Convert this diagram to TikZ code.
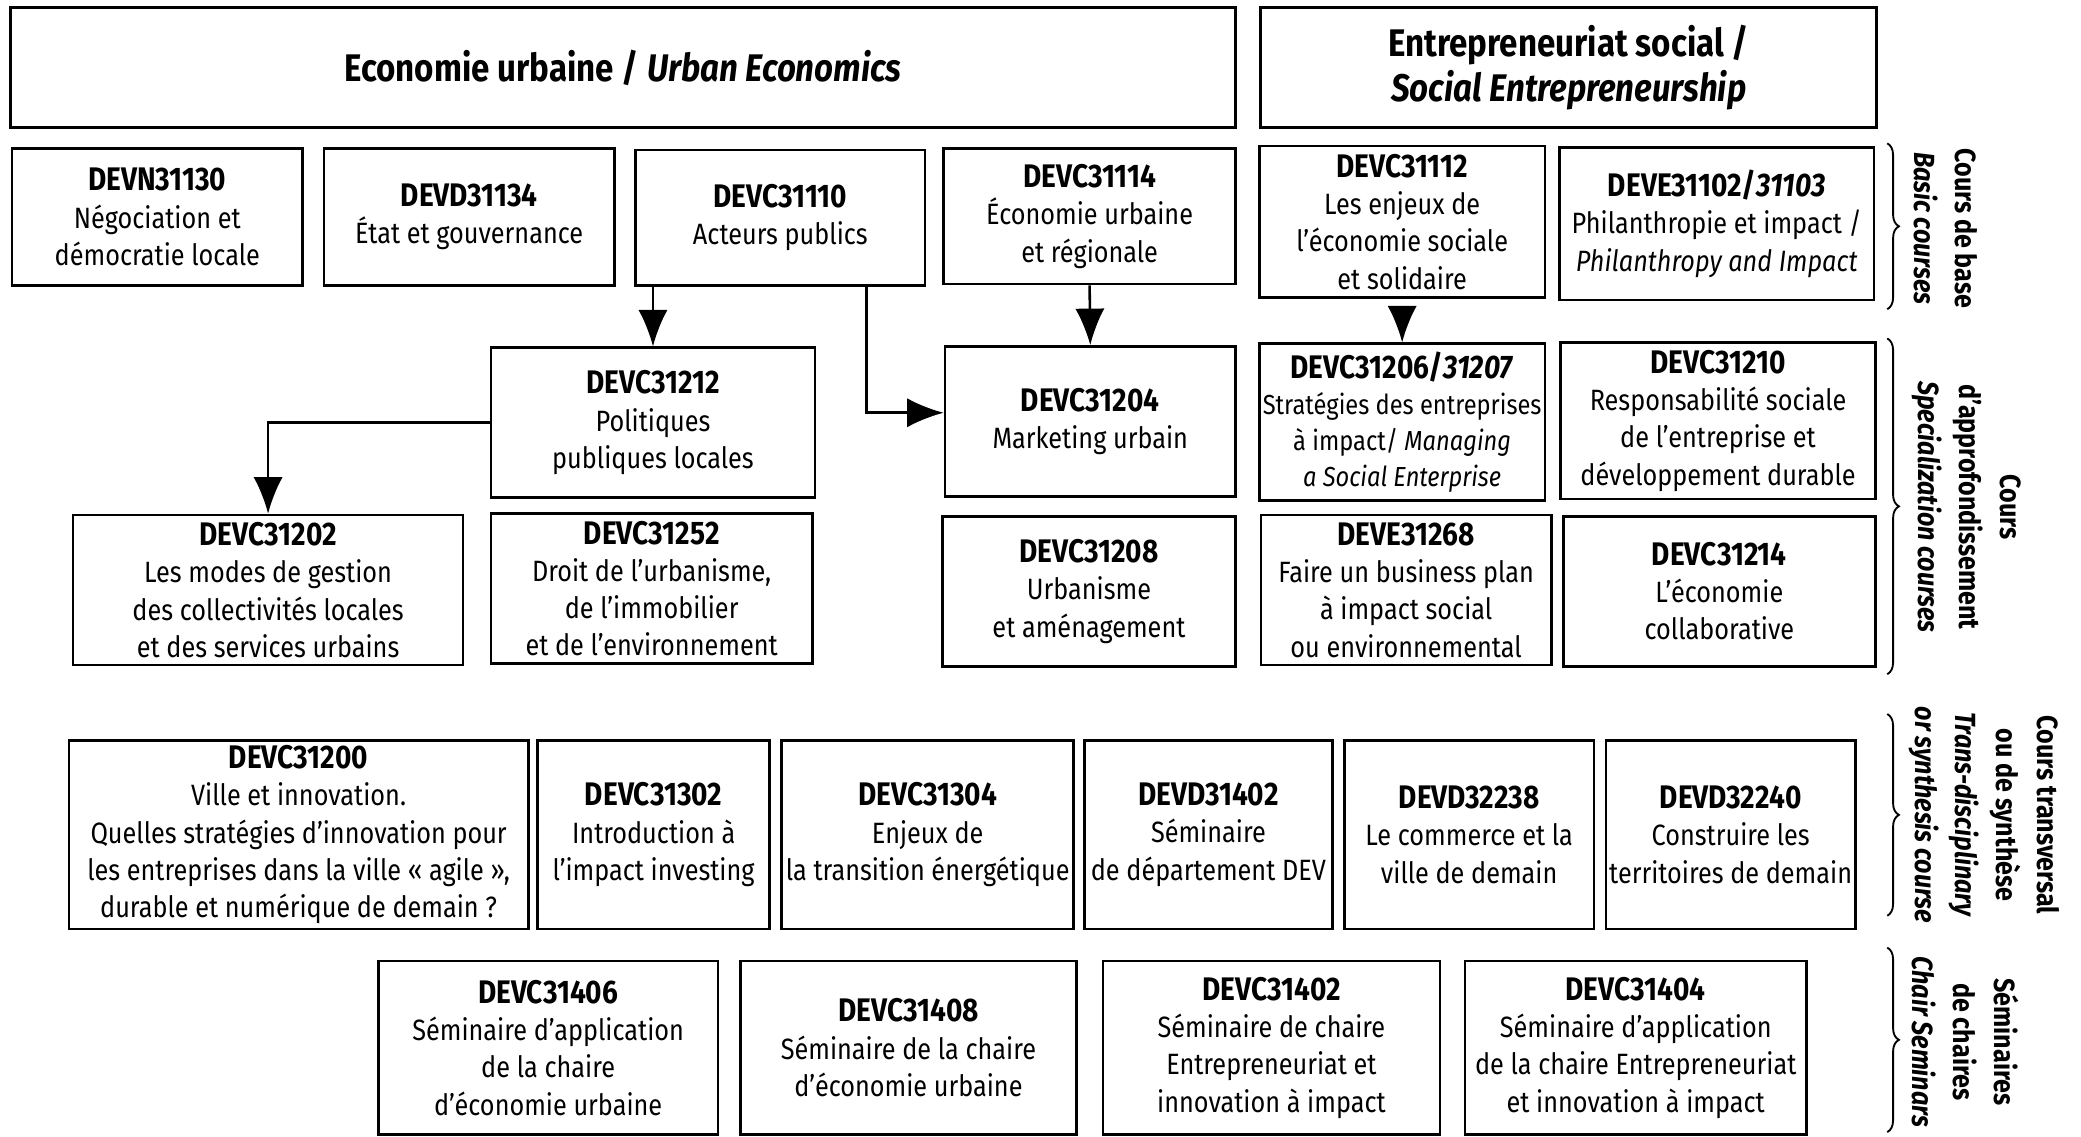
\documentclass[tikz,border=0pt]{standalone}
\usepackage{fontspec}
\setmainfont{Fira Sans}[FakeStretch=0.86]
\usetikzlibrary{arrows.meta, decorations.pathreplacing}

\newcommand\crs[1]{{\fontsize{14}{16}\selectfont\bfseries #1}}

\tikzset{
  box/.style={draw, line width=1.1pt, align=center, fill=white, inner sep=1pt,
              font=\fontsize{12.6}{16}\selectfont},
  sz/.style 2 args={minimum width=#1*0.02cm, minimum height=#2*0.02cm},
  titlebox/.style={box, line width=1.3pt, font=\fontsize{16.5}{19.5}\selectfont\bfseries},
  side/.style={align=center, rotate=-90, font=\fontsize{12.5}{17.5}\selectfont\bfseries},
  brace/.style={decorate, decoration={brace, amplitude=5pt}, line width=0.8pt},
  link/.style={-{Latex[length=5.5mm, width=4.4mm]}, line width=1.1pt}
}

\begin{document}
\begin{tikzpicture}[x=0.02cm, y=-0.02cm]
    \useasboundingbox (0,0) rectangle (1568,856);

    % the two tracks
    \node[titlebox, sz={923}{90}] (urban) at (469.5,51) {Economie urbaine / \textit{Urban Economics}};
    \node[titlebox, sz={464}{90}] (social) at (1182,51) {Entrepreneuriat social /\\\textit{Social Entrepreneurship}};

    % basic courses
    \node[box, sz={219}{103}] (n31130) at (118.5,163.5) {\crs{DEVN31130}\\Négociation et\\démocratie locale};
    \node[box, sz={219}{103}] (d31134) at (353.5,163.5) {\crs{DEVD31134}\\État et gouvernance};
    \node[box, sz={218}{102}] (c31110) at (588,164) {\crs{DEVC31110}\\Acteurs publics};
    \node[box, sz={220}{102}] (c31114) at (821,163) {\crs{DEVC31114}\\Économie urbaine\\et régionale};
    \node[box, sz={215}{114}] (c31112) at (1056.5,167) {\crs{DEVC31112}\\Les enjeux de\\l’économie sociale\\et solidaire};
    \node[box, sz={237}{115}] (e31102) at (1293.5,168.5) {\crs{DEVE31102/\textit{31103}}\\Philanthropie et impact /\\\textit{Philanthropy and Impact}};

    % specialization courses
    \node[box, sz={244}{113}] (c31212) at (492,318.5) {\crs{DEVC31212}\\Politiques\\publiques locales};
    \node[box, sz={219}{113}] (c31204) at (821.5,317.5) {\crs{DEVC31204}\\Marketing urbain};
    \node[box, sz={215}{118}, font=\fontsize{11.8}{15.5}\selectfont] (c31206) at (1056.5,318) {\crs{DEVC31206/\textit{31207}}\\Stratégies des entreprises\\à impact/ \textit{Managing}\\\textit{a Social Enterprise}};
    \node[box, sz={237}{118}] (c31210) at (1294.5,317) {\crs{DEVC31210}\\Responsabilité sociale\\de l’entreprise et\\développement durable};

    \node[box, sz={294}{113}] (c31202) at (202,444.5) {\crs{DEVC31202}\\Les modes de gestion\\des collectivités locales\\et des services urbains};
    \node[box, sz={242}{113}] (c31252) at (491,443.5) {\crs{DEVC31252}\\Droit de l’urbanisme,\\de l’immobilier\\et de l’environnement};
    \node[box, sz={221}{113}] (c31208) at (820.5,445.5) {\crs{DEVC31208}\\Urbanisme\\et aménagement};
    \node[box, sz={219}{113}] (e31268) at (1059.5,444.5) {\crs{DEVE31268}\\Faire un business plan\\à impact social\\ou environnemental};
    \node[box, sz={235}{113}] (c31214) at (1295.5,445.5) {\crs{DEVC31214}\\L’économie\\collaborative};

    % transversal courses
    \node[box, sz={346}{142}] (c31200) at (225,629) {\crs{DEVC31200}\\Ville et innovation.\\Quelles stratégies d’innovation pour\\les entreprises dans la ville «~agile~»,\\durable et numérique de demain ?};
    \node[box, sz={175}{142}] (c31302) at (492.5,629) {\crs{DEVC31302}\\Introduction à\\l’impact investing};
    \node[box, sz={220}{142}] (c31304) at (699,629) {\crs{DEVC31304}\\Enjeux de\\la transition énergétique};
    \node[box, sz={187}{142}] (d31402) at (910.5,629) {\crs{DEVD31402}\\Séminaire\\de département DEV};
    \node[box, sz={188}{142}] (d32238) at (1107,629) {\crs{DEVD32238}\\Le commerce et la\\ville de demain};
    \node[box, sz={188}{142}] (d32240) at (1304,629) {\crs{DEVD32240}\\Construire les\\territoires de demain};

    % chair seminars
    \node[box, sz={256}{131}] (c31406) at (413,789.5) {\crs{DEVC31406}\\Séminaire d’application\\de la chaire\\d’économie urbaine};
    \node[box, sz={253}{131}] (c31408) at (684.5,789.5) {\crs{DEVC31408}\\Séminaire de la chaire\\d’économie urbaine};
    \node[box, sz={254}{131}] (c31402) at (958,789.5) {\crs{DEVC31402}\\Séminaire de chaire\\Entrepreneuriat et\\innovation à impact};
    \node[box, sz={257}{131}] (c31404) at (1232.5,789.5) {\crs{DEVC31404}\\Séminaire d’application\\de la chaire Entrepreneuriat\\et innovation à impact};

    % prerequisites
    \draw[link] (c31212.north |- c31110.south) -- (c31212.north);
    \draw[link] ([xshift=1.3cm]c31110.south) |- ([yshift=0.13cm]c31204.west);
    \draw[link] (c31212.west) -| (c31202.north);
    \draw[link] (c31114.south) -- (c31204.north);
    \draw[link] ([yshift=-0.2cm]c31112.south) -- (c31206.north);

    % braces and levels
    \draw[brace] (1422,108) -- (1422,233);
    \draw[brace] (1422,255) -- (1422,508);
    \draw[brace] (1422,538) -- (1422,690);
    \draw[brace] (1422,714) -- (1422,853);

    \node[side] (lbase) at (1466,172) {Cours de base\\\textit{Basic courses}};
    \node[side] (lspec) at (1482,382) {Cours\\d’approfondissement\\\textit{Specialization courses}};
    \node[side] (ltrans) at (1495,614) {Cours transversal\\ou de synthèse\\\textit{Trans-disciplinary}\\\textit{or synthesis course}};
    \node[side] (lsemi) at (1481,785) {Séminaires\\de chaires\\\textit{Chair Seminars}};
\end{tikzpicture}
\end{document}
